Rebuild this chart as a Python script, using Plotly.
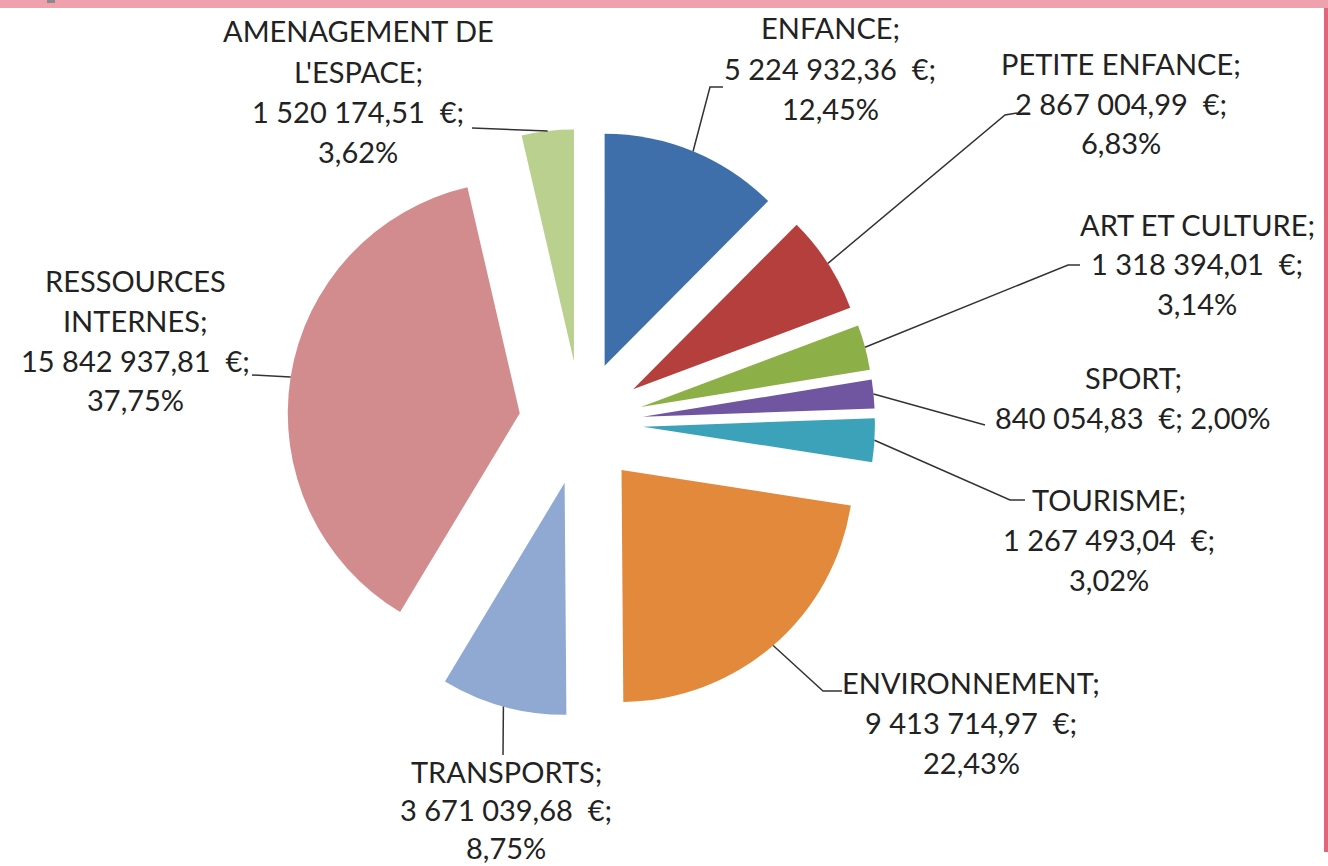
import math
import plotly.graph_objects as go

W, H = 1328, 866

# ---------------- data ----------------
categories = ["ENFANCE", "PETITE ENFANCE", "ART ET CULTURE", "SPORT", "TOURISME",
              "ENVIRONNEMENT", "TRANSPORTS", "RESSOURCES INTERNES", "AMENAGEMENT DE L'ESPACE"]
values = [5224932.36, 2867004.99, 1318394.01, 840054.83, 1267493.04,
          9413714.97, 3671039.68, 15842937.81, 1520174.51]
name_lines = [["ENFANCE;"], ["PETITE ENFANCE;"], ["ART ET CULTURE;"], ["SPORT;"], ["TOURISME;"],
              ["ENVIRONNEMENT;"], ["TRANSPORTS;"], ["RESSOURCES", "INTERNES;"],
              ["AMENAGEMENT DE", "L'ESPACE;"]]
merge_value_pct = [False, False, False, True, False, False, False, False, False]

# ---------------- style / layout ----------------
colors = ["#3F6FAA", "#B53F3D", "#8DAF48", "#7056A0", "#3CA2BA",
          "#E2893C", "#8FA9D3", "#D38C8E", "#B9D08F"]
FONT = "Lato"
FSIZE = 29
TXT = "#222222"
LINE_H = 40

CX, CY = 581, 423      # pie centre (px)
R = 232                # pie radius (px)
PULL_PX = 62           # explosion distance (px)

# label block (centre x, first line y), per-label line spacing, leader elbow points (px)
label_pos = [(830, 28), (1121, 63), (1197, 224), (1133, 377), (1109, 499),
             (971, 682), (506, 771), (135, 280), (358, 31)]
label_gap = [LINE_H] * 6 + [38, LINE_H, LINE_H]
leader_pts = [[(710, 87), (723, 87)],
              [(1005, 115), (1017, 113)],
              [(1068, 265), (1080, 265)],
              [(985, 425)],
              [(1010, 500), (1025, 500)],
              [(823, 691), (842, 691)],
              [(503, 755)],
              [(252, 375)],
              [(472, 128)]]


def fr_money(v):
    s = f"{v:,.2f}"
    s = s.replace(",", " ").replace(".", ",")
    return s + "\u00a0\u00a0€;"


def fr_pct(p):
    return f"{p:.2f}".replace(".", ",") + "%"


total = sum(values)
pcts = [v / total * 100 for v in values]

half = R + PULL_PX
dom_x = [(CX - half) / W, (CX + half) / W]
dom_y = [1 - (CY + half) / H, 1 - (CY - half) / H]

fig = go.Figure(go.Pie(
    labels=categories,
    values=values,
    sort=False,
    direction="clockwise",
    rotation=0,
    pull=[PULL_PX / R] * len(values),
    marker=dict(colors=colors, line=dict(width=0)),
    textinfo="none",
    hoverinfo="label+value+percent",
    showlegend=False,
    domain=dict(x=dom_x, y=dom_y),
))

annotations = []
shapes = []


def px(x):
    return x / W


def py(y):
    return 1 - y / H


cum = 0.0
for i, v in enumerate(values):
    frac = v / total
    mid = (cum + frac / 2) * 2 * math.pi
    cum += frac
    dx, dy = math.sin(mid), -math.cos(mid)
    ax, ay = CX + (R + PULL_PX) * dx, CY + (R + PULL_PX) * dy
    lines = list(name_lines[i])
    if merge_value_pct[i]:
        lines.append(fr_money(values[i]) + " " + fr_pct(pcts[i]))
    else:
        lines.append(fr_money(values[i]))
        lines.append(fr_pct(pcts[i]))
    lx, ly = label_pos[i]
    for k, t in enumerate(lines):
        annotations.append(dict(
            x=px(lx), y=py(ly + k * label_gap[i]), xref="paper", yref="paper",
            text=t, showarrow=False, xanchor="center", yanchor="middle",
            font=dict(family=FONT, size=FSIZE, color=TXT)))
    pts = [(ax, ay)] + leader_pts[i]
    path = "M " + " L ".join(f"{px(x):.5f},{py(y):.5f}" for x, y in pts)
    shapes.append(dict(type="path", path=path, xref="paper", yref="paper",
                       line=dict(color="#333333", width=1.5)))

# page frame (pink band on top, crimson edge on the right)
shapes.append(dict(type="rect", xref="paper", yref="paper",
                   x0=0, x1=1, y0=py(8), y1=1, fillcolor="#EFA1AD", line=dict(width=0), layer="below"))
shapes.append(dict(type="rect", xref="paper", yref="paper",
                   x0=px(1324), x1=1, y0=py(852), y1=py(8), fillcolor="#E2657C", line=dict(width=0), layer="below"))
shapes.append(dict(type="rect", xref="paper", yref="paper",
                   x0=px(47), x1=px(55), y0=py(3), y1=1, fillcolor="#8A8A8A", line=dict(width=0)))

fig.update_layout(
    width=W, height=H,
    margin=dict(l=0, r=0, t=0, b=0),
    paper_bgcolor="white",
    plot_bgcolor="white",
    annotations=annotations,
    shapes=shapes,
)

fig.write_html("out.html", config={"displayModeBar": False},
               post_script="document.body.style.margin='0px';")
